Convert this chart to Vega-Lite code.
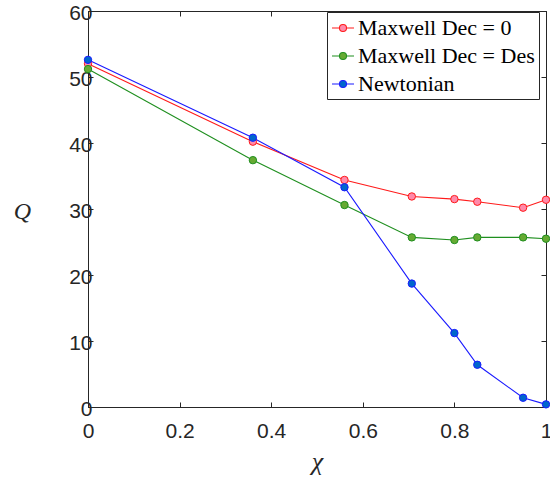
{
  "$schema": "https://vega.github.io/schema/vega-lite/v6.json",
  "width": 458,
  "height": 396,
  "autosize": {"type": "none"},
  "padding": {"left": 88, "top": 11, "right": 4, "bottom": 72},
  "background": "white",
  "config": {
    "view": {"stroke": "#262626", "strokeWidth": 1},
    "axis": {
      "labelFont": "Liberation Sans",
      "labelFontSize": 21,
      "labelColor": "#262626",
      "domainColor": "#262626",
      "tickColor": "#262626",
      "labelFlush": false,
      "grid": false
    },
    "legend": {
      "labelFont": "Liberation Serif",
      "labelFontSize": 22,
      "labelLimit": 400,
      "labelColor": "#000000"
    }
  },
  "data": {
    "values": [
      {"chi": 0, "Q": 52.0, "series": "Maxwell Dec = 0"},
      {"chi": 0.36, "Q": 40.2, "series": "Maxwell Dec = 0"},
      {"chi": 0.56, "Q": 34.4, "series": "Maxwell Dec = 0"},
      {"chi": 0.707, "Q": 31.9, "series": "Maxwell Dec = 0"},
      {"chi": 0.8, "Q": 31.5, "series": "Maxwell Dec = 0"},
      {"chi": 0.85, "Q": 31.1, "series": "Maxwell Dec = 0"},
      {"chi": 0.95, "Q": 30.2, "series": "Maxwell Dec = 0"},
      {"chi": 1, "Q": 31.4, "series": "Maxwell Dec = 0"},
      {"chi": 0, "Q": 51.2, "series": "Maxwell Dec = Des"},
      {"chi": 0.36, "Q": 37.4, "series": "Maxwell Dec = Des"},
      {"chi": 0.56, "Q": 30.6, "series": "Maxwell Dec = Des"},
      {"chi": 0.707, "Q": 25.7, "series": "Maxwell Dec = Des"},
      {"chi": 0.8, "Q": 25.3, "series": "Maxwell Dec = Des"},
      {"chi": 0.85, "Q": 25.7, "series": "Maxwell Dec = Des"},
      {"chi": 0.95, "Q": 25.7, "series": "Maxwell Dec = Des"},
      {"chi": 1, "Q": 25.5, "series": "Maxwell Dec = Des"},
      {"chi": 0, "Q": 52.6, "series": "Newtonian"},
      {"chi": 0.36, "Q": 40.8, "series": "Newtonian"},
      {"chi": 0.56, "Q": 33.3, "series": "Newtonian"},
      {"chi": 0.707, "Q": 18.7, "series": "Newtonian"},
      {"chi": 0.8, "Q": 11.2, "series": "Newtonian"},
      {"chi": 0.85, "Q": 6.4, "series": "Newtonian"},
      {"chi": 0.95, "Q": 1.4, "series": "Newtonian"},
      {"chi": 1, "Q": 0.4, "series": "Newtonian"}
    ]
  },
  "layer": [
    {
      "mark": {"type": "line", "strokeWidth": 1.1},
      "encoding": {
        "x": {
          "field": "chi", "type": "quantitative",
          "scale": {"domain": [0, 1], "nice": false},
          "axis": {
            "orient": "bottom", "values": [0, 0.2, 0.4, 0.6, 0.8, 1], "format": "~g",
            "tickSize": -5, "labelPadding": 18, "title": "χ",
            "titleFont": "Liberation Serif", "titleFontStyle": "italic", "titleFontWeight": "normal",
            "titleFontSize": 26, "titleColor": "#262626",
            "titleX": 229, "titleY": 54, "titleBaseline": "middle"
          }
        },
        "y": {
          "field": "Q", "type": "quantitative",
          "scale": {"domain": [0, 60], "nice": false},
          "axis": {
            "orient": "left", "values": [0, 10, 20, 30, 40, 50, 60],
            "tickSize": -5, "labelPadding": 1, "labelOffset": 2, "title": "Q",
            "titleFont": "Liberation Serif", "titleFontStyle": "italic", "titleFontWeight": "normal",
            "titleFontSize": 24, "titleColor": "#262626", "titleAngle": 0,
            "titleX": -66, "titleY": 200, "titleBaseline": "middle", "titleAlign": "center"
          }
        },
        "stroke": {
          "field": "series", "type": "nominal",
          "scale": {
            "domain": ["Maxwell Dec = 0", "Maxwell Dec = Des", "Newtonian"],
            "range": ["#ff1a1a", "#1f8f1f", "#1a1aff"]
          },
          "legend": {
            "title": null, "orient": "none", "legendX": 239, "legendY": 1,
            "strokeColor": "#262626", "fillColor": "white", "padding": 4,
            "labelFont": "Liberation Serif", "labelFontSize": 22, "labelColor": "#000000", "labelLimit": 400,
            "symbolType": "M-1,0H-0.32 M0.32,0H1 M0.32,0A0.32,0.32 0 1,1 -0.32,0A0.32,0.32 0 1,1 0.32,0Z",
            "symbolSize": 484, "symbolStrokeWidth": 1.1, "rowPadding": 5, "labelOffset": 3
          }
        }
      }
    },
    {
      "mark": {"type": "point", "filled": true, "size": 55, "strokeWidth": 1, "opacity": 1},
      "encoding": {
        "x": {
          "field": "chi", "type": "quantitative",
          "axis": {"orient": "top", "values": [0, 0.2, 0.4, 0.6, 0.8, 1], "labels": false, "tickSize": -5, "title": null}
        },
        "y": {
          "field": "Q", "type": "quantitative",
          "axis": {"orient": "right", "values": [0, 10, 20, 30, 40, 50, 60], "labels": false, "tickSize": -5, "title": null}
        },
        "stroke": {"field": "series", "type": "nominal"},
        "fill": {
          "field": "series", "type": "nominal",
          "scale": {
            "domain": ["Maxwell Dec = 0", "Maxwell Dec = Des", "Newtonian"],
            "range": ["#ff8aaa", "#66aa33", "#0066cc"]
          },
          "legend": {
            "title": null, "orient": "none", "legendX": 239, "legendY": 1,
            "strokeColor": "#262626", "fillColor": "white", "padding": 4,
            "labelFont": "Liberation Serif", "labelFontSize": 22, "labelColor": "#000000", "labelLimit": 400,
            "symbolType": "M-1,0H-0.32 M0.32,0H1 M0.32,0A0.32,0.32 0 1,1 -0.32,0A0.32,0.32 0 1,1 0.32,0Z",
            "symbolSize": 484, "symbolStrokeWidth": 1.1, "rowPadding": 5, "labelOffset": 3
          }
        }
      }
    }
  ],
  "resolve": {"axis": {"x": "independent", "y": "independent"}}
}
